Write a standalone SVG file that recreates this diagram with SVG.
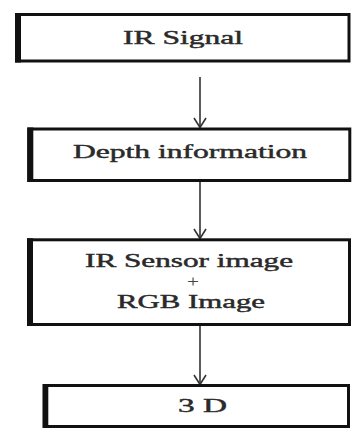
<svg xmlns="http://www.w3.org/2000/svg" width="352" height="430" viewBox="0 0 352 430">
<style>
.box{fill:#fff;stroke:#111;stroke-width:3}
.band{fill:#111}
.t{font-family:"Liberation Serif","Times New Roman",serif;font-size:19px;fill:#2a2a2a;stroke:#2a2a2a;stroke-width:0.45}
.p{font-family:"Liberation Serif","Times New Roman",serif;font-size:17px;fill:#444}
.c{stroke:#333;stroke-width:1.6;fill:none}
</style>
<rect width="352" height="430" fill="#fff"/>
<g id="connectors">
<line class="c" x1="200" y1="77" x2="200" y2="127"/>
<polyline class="c" points="194,118 200,127.5 206,118"/>
<line class="c" x1="200" y1="182" x2="200" y2="238"/>
<polyline class="c" points="194,229 200,238.5 206,229"/>
<line class="c" x1="200" y1="326" x2="200" y2="384"/>
<polyline class="c" points="194,375 200,384.5 206,375"/>
</g>
<g id="ir-signal">
<rect class="box" x="16.5" y="14.5" width="332.5" height="46.5"/>
<rect class="band" x="15" y="13" width="6" height="49.5"/>
<text class="t" x="123" y="44" textLength="120" lengthAdjust="spacingAndGlyphs">IR Signal</text>
</g>
<g id="depth-information">
<rect class="box" x="28.8" y="129" width="321" height="51.5"/>
<rect class="band" x="27.3" y="127.5" width="6" height="54.5"/>
<text class="t" x="73" y="158" textLength="234" lengthAdjust="spacingAndGlyphs">Depth information</text>
</g>
<g id="ir-rgb">
<rect class="box" x="28.5" y="239.8" width="321" height="84.7"/>
<rect class="band" x="27" y="238.3" width="6" height="87.7"/>
<text class="t" x="85" y="267" textLength="208" lengthAdjust="spacingAndGlyphs">IR Sensor image</text>
<text class="p" x="193" y="286.5" text-anchor="middle" textLength="12" lengthAdjust="spacingAndGlyphs">+</text>
<text class="t" x="117" y="308" textLength="148" lengthAdjust="spacingAndGlyphs">RGB Image</text>
</g>
<g id="three-d">
<rect class="box" x="44.2" y="385.5" width="304.3" height="41"/>
<rect class="band" x="42.7" y="384" width="5.6" height="44"/>
<text class="t" x="178" y="412" textLength="49" lengthAdjust="spacingAndGlyphs">3 D</text>
</g>
</svg>
